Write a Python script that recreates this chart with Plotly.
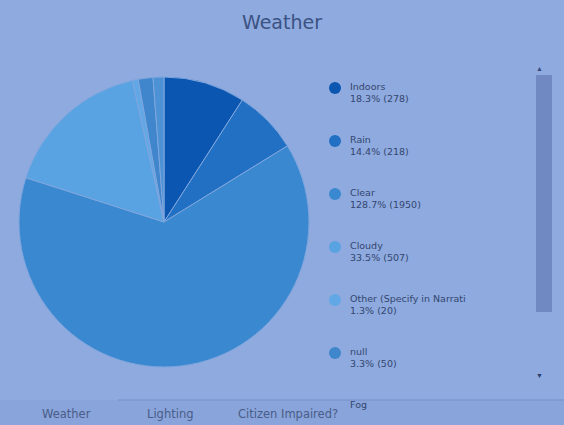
import plotly.graph_objects as go

labels = ["Indoors", "Rain", "Clear", "Cloudy", "Other (Specify in Narrati", "null", "Fog"]
counts = [278, 218, 1950, 507, 20, 50, 37]
pct_text = ["18.3%", "14.4%", "128.7%", "33.5%", "1.3%", "3.3%", "2.4%"]
colors = ["#0a56b0", "#2170c4", "#3a88d0", "#5aa3e2", "#62a8e6", "#3f86cc", "#4d92d4"]
tabs = ["Weather", "Lighting", "Citizen Impaired?"]

W, H = 564, 425
BG = "#8eaadf"
TXT = "#34466e"

fig = go.Figure()
fig.add_trace(go.Pie(
    labels=labels, values=counts, sort=False, direction="clockwise", rotation=0,
    marker=dict(colors=colors, line=dict(color="#7fa6de", width=1)),
    textinfo="none", hoverinfo="label+value+percent", showlegend=False,
    domain=dict(x=[19 / W, 309 / W], y=[1 - 367 / H, 1 - 77 / H]),
))

def py(y):
    return 1 - y / H

shapes = []
annotations = []
# legend built from the data lists
for i, (lab, c, p, col) in enumerate(zip(labels, counts, pct_text, colors)):
    yc = 88 + 53 * i
    shapes.append(dict(type="circle", xref="paper", yref="paper",
                       x0=(329) / W, x1=(341) / W, y0=py(yc + 6), y1=py(yc - 6),
                       fillcolor=col, line=dict(width=0)))
    text = lab if i == len(labels) - 1 else f"{lab}<br>{p} ({c})"
    annotations.append(dict(x=348 / W, y=py(yc - 9), xref="paper", yref="paper",
                            xanchor="left", yanchor="top", align="left", showarrow=False,
                            text=text, font=dict(family="DejaVu Sans", size=9.5, color=TXT)))

# scrollbar
shapes.append(dict(type="rect", xref="paper", yref="paper", x0=536 / W, x1=552 / W,
                   y0=py(312), y1=py(75), fillcolor="#7189c2", line=dict(width=0)))
annotations.append(dict(x=545 / W, y=py(62), xref="paper", yref="paper", showarrow=False,
                        text="▲", font=dict(size=7, color="#3a4a7a")))
annotations.append(dict(x=545 / W, y=py(382), xref="paper", yref="paper", showarrow=False,
                        text="▼", font=dict(size=7, color="#2a3a6a")))
# bottom tab bar
shapes.append(dict(type="rect", xref="paper", yref="paper", x0=0, x1=1, y0=0, y1=py(400),
                   fillcolor="#88a4da", line=dict(width=0), layer="above"))
shapes.append(dict(type="line", xref="paper", yref="paper", x0=118 / W, x1=1, y0=py(400), y1=py(400),
                   line=dict(color="#7690c8", width=1)))
for t, x in zip(tabs, [40, 145, 236]):
    annotations.append(dict(x=x / W, y=py(405), xref="paper", yref="paper", xanchor="left",
                            yanchor="top", showarrow=False, text=t,
                            font=dict(family="DejaVu Sans", size=11.5, color="#4a5c88")))

fig.update_layout(
    width=W, height=H, margin=dict(l=0, r=0, t=0, b=0),
    paper_bgcolor=BG, plot_bgcolor=BG,
    title=dict(text="Weather", x=0.5, xanchor="center", y=py(22), yanchor="middle",
               font=dict(family="DejaVu Sans", size=19, color="#3b5282")),
    shapes=shapes, annotations=annotations,
)
fig.write_html("out.html", config={"displayModeBar": False},
               post_script="document.body.style.margin='0';document.body.style.padding='0';"
                           "document.body.style.background='#8eaadf';")
